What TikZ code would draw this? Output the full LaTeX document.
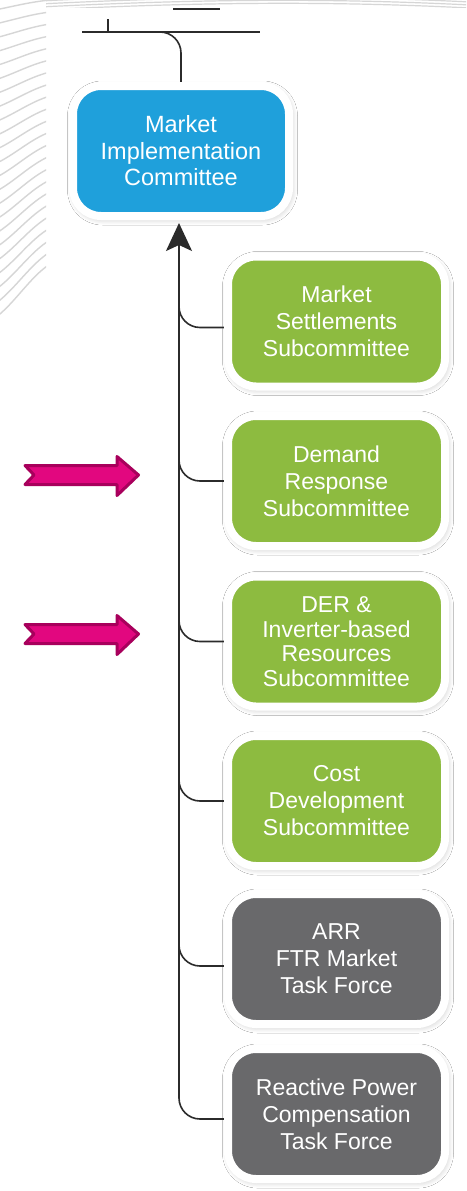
\documentclass[tikz,border=0pt]{standalone}
\usepackage{fontspec}
\setmainfont{Liberation Sans}
\usetikzlibrary{shadows.blur,backgrounds,arrows.meta,calc}
\definecolor{micblue}{HTML}{1FA0DB}
\definecolor{scgreen}{HTML}{8DBB40}
\definecolor{tfgray}{HTML}{69696B}
\definecolor{linec}{HTML}{2B2B2B}
\definecolor{pinkf}{HTML}{E2077F}
\definecolor{pinkd}{HTML}{A8005C}
\definecolor{swirl}{HTML}{D6D6D6}
\begin{document}
\begin{tikzpicture}[x=1pt,y=1pt,
  box/.style={draw=white, line width=8pt, rounded corners=28pt,
    minimum width=217pt, minimum height=130pt, align=center, text=white,
    font=\fontsize{23}{27}\selectfont, inner sep=0pt,
    blur shadow={shadow xshift=1.5pt, shadow yshift=-2pt, shadow blur radius=7pt, shadow blur steps=12, shadow opacity=28}},
  conn/.style={draw=linec, line width=1.6pt},
  branch/.style={conn, rounded corners=21pt},
  pinkarrow/.style={fill=pinkf, draw=pinkd, line width=3pt, line join=round}]
\useasboundingbox (0,0) rectangle (466,-1191);
% nodes
\node[box, fill=micblue, minimum width=216pt, font=\fontsize{23.5}{26.5}\selectfont] (mic) at (181,-151) {Market\\Implementation\\Committee};
\node[box, fill=scgreen] (ms) at (336.5,-321.5) {Market\\Settlements\\Subcommittee};
\node[box, fill=scgreen] (dr) at (336.5,-481) {Demand\\Response\\Subcommittee};
\node[box, fill=scgreen, font=\fontsize{23}{24.5}\selectfont] (der) at (336.5,-641.5) {DER \&\\Inverter-based\\Resources\\Subcommittee};
\node[box, fill=scgreen] (cd) at (336.5,-801) {Cost\\Development\\Subcommittee};
\node[box, fill=tfgray] (arr) at (336.5,-959) {ARR\\FTR Market\\Task Force};
\node[box, fill=tfgray] (rp) at (336.5,-1114) {Reactive Power\\Compensation\\Task Force};
% coordinates
\coordinate (tl) at (82,-32);
\coordinate (tr) at (260,-32);
\coordinate (tick) at (108,-19);
\coordinate (tt) at (179,-223);
\coordinate (tb) at (179,-1095);
\coordinate (fa) at (173,-9);
\coordinate (fb) at (220,-9);
\begin{pgfonlayer}{background}
\fill[white] (0,0) rectangle (466,-1191);
% background swirl (top-left and top strip)
\begin{scope}
  \clip (0,0) rectangle (46,-330);
  \foreach \i in {0,...,22}{
    \draw[swirl, line width=1.4pt] (-5,{-10-\i*14}) .. controls (15,{-6-\i*13.5}) and (30,{-2-\i*12.5}) .. (50,{-\i*12});
  }
\end{scope}
\begin{scope}
  \clip (46,0) rectangle (466,-7);
  \foreach \i in {0,...,3}{
    \draw[swirl, line width=1.2pt] (40,{-10+\i*3}) .. controls (200,{-2+\i*3}) and (330,{-1+\i*3}) .. (470,{-8+\i*3});
  }
\end{scope}
% connectors
\draw[conn] (fa) -- (fb);
\draw[conn] (tl) -- (tr);
\draw[conn] (tick) -- (tick |- tl);
\draw[branch] (mic.north) |- (tl);
\draw[conn, -{Stealth[length=28pt,width=26pt,inset=6pt]}] (tb) -- (tt);
\draw[branch] ([yshift=30pt]ms.west -| tt) |- ([yshift=-6pt]ms.west);
\draw[branch] ([yshift=30pt]dr.west -| tt) |- (dr.west);
\draw[branch] ([yshift=30pt]der.west -| tt) |- (der.west);
\draw[branch] ([yshift=30pt]cd.west -| tt) |- (cd.west);
\draw[branch] ([yshift=30pt]arr.west -| tt) |- ([yshift=-7pt]arr.west);
\draw[branch] ([yshift=30pt]rp.west -| tt) |- ([yshift=-5pt]rp.west);
\end{pgfonlayer}
% pink arrows
\foreach \yc in {-475,-634}{
  \draw[pinkarrow] (25,\yc+9.5) -- (117,\yc+9.5) -- (117,\yc+18.5) -- (138.5,\yc) -- (117,\yc-20.5) -- (117,\yc-9.5) -- (25,\yc-9.5) -- (34,\yc) -- cycle;
}
\end{tikzpicture}
\end{document}
